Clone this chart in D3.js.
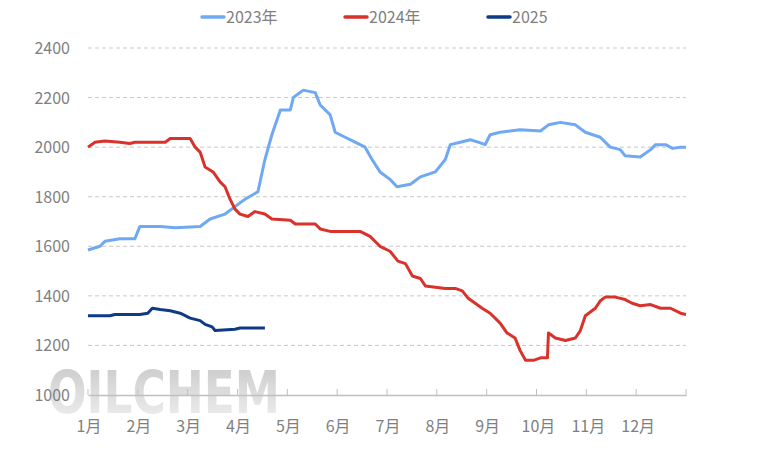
<!DOCTYPE html>
<html><head><meta charset="utf-8">
<script src="https://cdn.jsdelivr.net/npm/d3@7"></script>
<style>body{margin:0;background:#fff}</style></head>
<body><svg id="c" width="768" height="456"></svg>
<script>
const months=["1月","2月","3月","4月","5月","6月","7月","8月","9月","10月","11月","12月"];
const yTicks=[1000,1200,1400,1600,1800,2000,2200,2400];
const m2023=[0,.24,.34,.64,.94,1.04,1.45,1.75,2.25,2.45,2.75,2.95,3.15,3.41,3.55,3.69,3.86,4.06,4.12,4.32,4.56,4.66,4.86,4.96,5.16,5.36,5.56,5.70,5.86,6.06,6.20,6.47,6.67,6.97,7.17,7.27,7.47,7.67,7.83,7.97,8.07,8.27,8.67,9.08,9.24,9.48,9.78,9.98,10.28,10.48,10.68,10.78,11.08,11.29,11.39,11.59,11.73,11.89,12];
const v2023=[1585,1600,1620,1630,1630,1680,1680,1675,1680,1710,1730,1760,1790,1820,1950,2050,2150,2150,2200,2230,2220,2170,2130,2060,2040,2020,2000,1950,1900,1870,1840,1850,1880,1900,1950,2010,2020,2030,2020,2010,2050,2060,2070,2065,2090,2100,2090,2060,2040,2000,1990,1965,1960,1990,2010,2010,1995,2000,2000];
const m2024=[0,.14,.34,.64,.84,.94,1.55,1.65,2.05,2.15,2.25,2.35,2.51,2.65,2.75,2.85,2.95,3.05,3.21,3.35,3.55,3.69,4.06,4.16,4.56,4.66,4.86,5.16,5.46,5.66,5.86,6.06,6.22,6.37,6.51,6.67,6.77,6.97,7.17,7.37,7.51,7.63,7.77,7.91,8.07,8.27,8.41,8.57,8.67,8.78,8.94,9.08,9.22,9.24,9.38,9.58,9.78,9.88,9.98,10.18,10.28,10.38,10.58,10.78,10.92,11.08,11.29,11.49,11.69,11.89,12];
const v2024=[2000,2020,2025,2020,2015,2020,2020,2035,2035,2000,1980,1920,1900,1860,1840,1790,1750,1730,1720,1740,1730,1710,1705,1690,1690,1670,1660,1660,1660,1640,1600,1580,1540,1530,1480,1470,1440,1435,1430,1430,1420,1390,1370,1350,1330,1290,1250,1230,1180,1140,1140,1150,1150,1250,1230,1220,1230,1260,1320,1350,1380,1395,1395,1385,1370,1360,1365,1350,1350,1330,1325];
const m2025=[0,.44,.54,1.04,1.2,1.29,1.45,1.65,1.85,2.05,2.25,2.35,2.49,2.55,2.95,3.05,3.35,3.55];
const v2025=[1320,1320,1325,1325,1330,1350,1345,1340,1330,1310,1300,1285,1275,1260,1265,1270,1270,1270];
const series=[{name:"2023年",m:m2023,v:v2023,c:"#6FA8F3"},{name:"2024年",m:m2024,v:v2024,c:"#D8322B"},{name:"2025",m:m2025,v:v2025,c:"#0E3A86"}];

const svg=d3.select("#c");
const x=d3.scaleLinear().domain([0,12]).range([88,686]);
const y=d3.scaleLinear().domain([1000,2400]).range([395,48]);
const F="'Microsoft YaHei','Noto Sans CJK SC',sans-serif";

const defs=svg.append("defs");
const g=defs.append("linearGradient").attr("id","wm").attr("x1",0).attr("y1",0).attr("x2",0).attr("y2",1);
g.append("stop").attr("offset","0").attr("stop-color","#c8c8c8");
g.append("stop").attr("offset","1").attr("stop-color","#f2f2f2");
svg.append("text").attr("x",48).attr("y",413).attr("font-family","'DejaVu Sans Condensed',sans-serif").attr("font-weight","bold").attr("font-size",58).attr("textLength",232).attr("lengthAdjust","spacingAndGlyphs").attr("fill","url(#wm)").text("OILCHEM");

svg.append("g").selectAll("line").data(yTicks.slice(1)).join("line")
 .attr("x1",88).attr("x2",686).attr("y1",d=>y(d)).attr("y2",d=>y(d))
 .attr("stroke","#c8c8c8").attr("stroke-dasharray","4,3");
svg.append("g").selectAll("text").data(yTicks).join("text")
 .attr("x",70).attr("y",d=>y(d)+6).attr("text-anchor","end").attr("font-family",F).attr("font-size",16).attr("fill","#7f7f7f").text(d=>d);

const ax=svg.append("g").attr("transform","translate(0,395)").call(d3.axisBottom(x).tickValues(d3.range(0,13)).tickSize(0).tickFormat(""));
ax.select(".domain").attr("stroke","#bfbfbf").attr("stroke-width",1.5);
svg.append("g").selectAll("line").data(d3.range(0,13)).join("line").attr("x1",d=>x(d)).attr("x2",d=>x(d)).attr("y1",389).attr("y2",395).attr("stroke","#bfbfbf");
svg.append("g").selectAll("text").data(months).join("text")
 .attr("x",(d,i)=>x(i)+(i>=9?2:1)).attr("y",432).attr("text-anchor","middle").attr("font-family",F).attr("font-size",16).attr("fill","#7f7f7f").text(d=>d);

const line=d3.line().x(d=>x(d[0])).y(d=>y(d[1]));
series.forEach(s=>{
 svg.append("path").datum(s.m.map((m,i)=>[m,s.v[i]])).attr("d",line).attr("fill","none").attr("stroke",s.c).attr("stroke-width",3).attr("stroke-linejoin","round");
});
const lx=[202,345,488];
series.forEach((s,i)=>{
 svg.append("line").attr("x1",lx[i]).attr("x2",lx[i]+22).attr("y1",17).attr("y2",17).attr("stroke",s.c).attr("stroke-width",3.5).attr("stroke-linecap","round");
 svg.append("text").attr("x",lx[i]+24).attr("y",23).attr("font-family",F).attr("font-size",16).attr("fill","#7f7f7f").text(s.name);
});
</script></body></html>
